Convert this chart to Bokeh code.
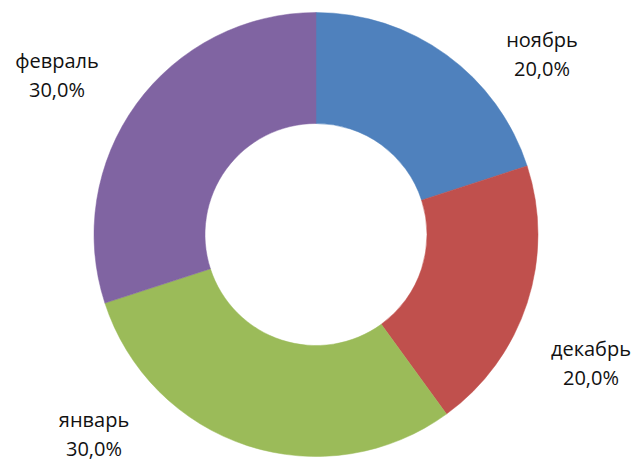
import math
from bokeh.plotting import figure
from bokeh.models import ColumnDataSource, Range1d
from bokeh.core.properties import value
from bokeh.embed import file_html
from bokeh.resources import INLINE

# data
categories = ["ноябрь", "декабрь", "январь", "февраль"]
values = [20.0, 20.0, 30.0, 30.0]
colors = ["#4F81BD", "#C0504D", "#9BBB59", "#8064A2"]

W, H = 639, 461
CX, CY = 315.5, H - 234
R_OUT, R_IN = 222, 111

# label layout (pixel offsets of label centre from pie centre, screen coords)
label_offsets = {
    "ноябрь": (226, -181),
    "декабрь": (275, 128),
    "январь": (-222, 199),
    "февраль": (-259, -160),
}

total = sum(values)
starts, ends = [], []
cum = 0.0
for v in values:
    starts.append(math.pi / 2 - 2 * math.pi * cum / total)
    cum += v
    ends.append(math.pi / 2 - 2 * math.pi * cum / total)

src = ColumnDataSource(dict(
    x=[CX] * len(values), y=[CY] * len(values),
    start=starts, end=ends, color=colors,
))

p = figure(width=W, height=H, output_backend="svg", toolbar_location=None,
           x_range=Range1d(0, W), y_range=Range1d(0, H), min_border=0)
p.axis.visible = False
p.grid.visible = False
p.outline_line_color = None
p.background_fill_color = "white"

p.annular_wedge(x="x", y="y", inner_radius=R_IN, outer_radius=R_OUT,
                start_angle="start", end_angle="end", direction="clock",
                fill_color="color", line_color="color", line_width=0.5,
                source=src)

lx, ly1, ly2, t1, t2 = [], [], [], [], []
for c, v in zip(categories, values):
    dx, dy = label_offsets[c]
    lx.append(CX + dx)
    ly1.append(CY - dy + 14.5)
    ly2.append(CY - dy - 14.5)
    t1.append(c)
    t2.append(f"{v / total * 100:.1f}%".replace(".", ","))

lsrc = ColumnDataSource(dict(x=lx + lx, y=ly1 + ly2, t=t1 + t2))
p.text(x="x", y="y", text="t", source=lsrc, text_align="center",
       text_baseline="middle", text_font=value("Open Sans"),
       text_font_size="20px", text_color="#111111")

open("out.html", "w").write(file_html(p, INLINE))
